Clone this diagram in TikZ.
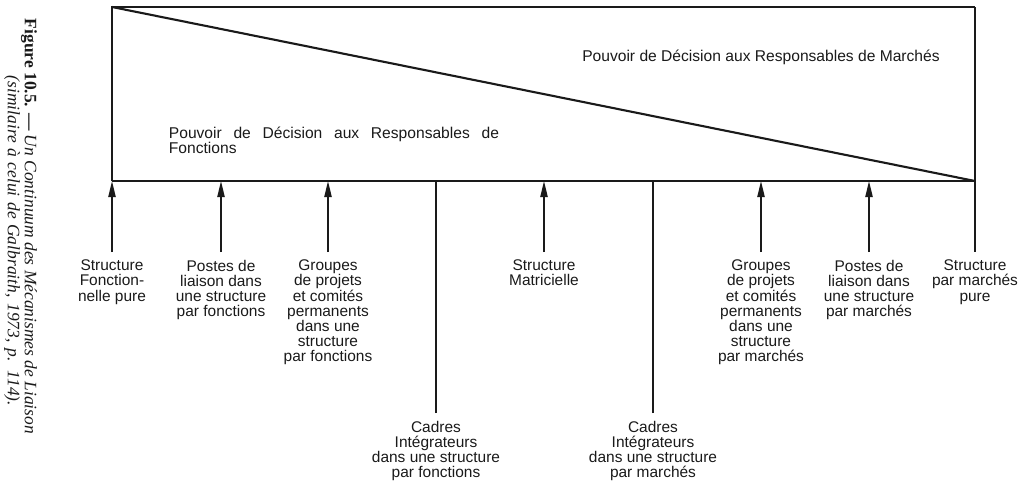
\documentclass[tikz,border=0pt]{standalone}
\usepackage{fontspec}
\setmainfont{Liberation Serif}
\setsansfont{Liberation Sans}
\usetikzlibrary{arrows.meta, positioning}
\definecolor{cink}{HTML}{1A1A1A}
\tikzset{
  every picture/.style={font=\sffamily, line width=1.3pt},
  frame/.style={draw=cink, line width=1.5pt},
  arrow/.style={-{Triangle[length=4mm, width=1.8mm]}, draw=cink, line width=1.2pt},
  stem/.style={draw=cink, line width=1.2pt},
  mech/.style={font=\sffamily\fontsize{11}{10.8}\selectfont, text=cink, align=center, anchor=north, inner sep=5pt},
  note/.style={font=\sffamily\fontsize{11.1}{11}\selectfont, text=cink, inner sep=0pt},
  capt/.style={font=\rmfamily\fontsize{12.4}{12}\selectfont, text=cink, rotate=-90, anchor=west, inner sep=0pt},
}

\begin{document}
\begin{tikzpicture}[x=0.025cm, y=-0.025cm]
  \useasboundingbox (0,0) rectangle (1024,482);
  % frame of the continuum
  \coordinate (tl) at (112,7);
  \coordinate (tr) at (975,7);
  \coordinate (bl) at (112,181);
  \coordinate (br) at (975,181);
  \draw[frame] (bl) -- (tl) -- (tr);
  \draw[frame] (bl) -- (br);
  \draw[frame] (tl) -- (br);
  % the two powers of decision
  \node[note] (pm) at (761,57) {Pouvoir de Décision aux Responsables de Marchés};
  \node[note, text width=8.25cm, align=justify, anchor=north west] (pf) at (168,126)
    {Pouvoir de Décision aux Responsables de\linebreak Fonctions};
  % mechanisms along the continuum
  \foreach \x/\y/\n/\txt in {
      112/252/m1/{Structure\\Fonction-\\nelle pure},
      221/252/m2/{Postes de\\liaison dans\\une structure\\par fonctions},
      328/252/m3/{Groupes\\de projets\\et comités\\permanents\\dans une\\structure\\par fonctions},
      436/413/m4/{Cadres\\Intégrateurs\\dans une structure\\par fonctions},
      544/252/m5/{Structure\\Matricielle},
      653/413/m6/{Cadres\\Intégrateurs\\dans une structure\\par marchés},
      761/252/m7/{Groupes\\de projets\\et comités\\permanents\\dans une\\structure\\par marchés},
      869/252/m8/{Postes de\\liaison dans\\une structure\\par marchés},
      975/252/m9/{Structure\\par marchés\\pure}} {
    \node[mech] (\n) at (\x,\y) {\txt};
  }
  \foreach \n in {m1,m2,m3,m5,m7,m8} \draw[arrow] (\n.north) -- (\n.north |- bl);
  \foreach \n in {m4,m6} \draw[stem] (\n.north) -- (\n.north |- bl);
  \draw[frame] (tr) -- (m9.north);
  % caption, turned along the left edge
  \node[capt] (cap1) at (29,18) {\textbf{Figure 10.5. —} \textit{Un Continuum des Mécanismes de Liaison}};
  \node[capt] (cap2) at (12,75) {\makebox[8.25cm][s]{\itshape (similaire à celui de Galbraith, 1973, p. 114).}};
\end{tikzpicture}
\end{document}
